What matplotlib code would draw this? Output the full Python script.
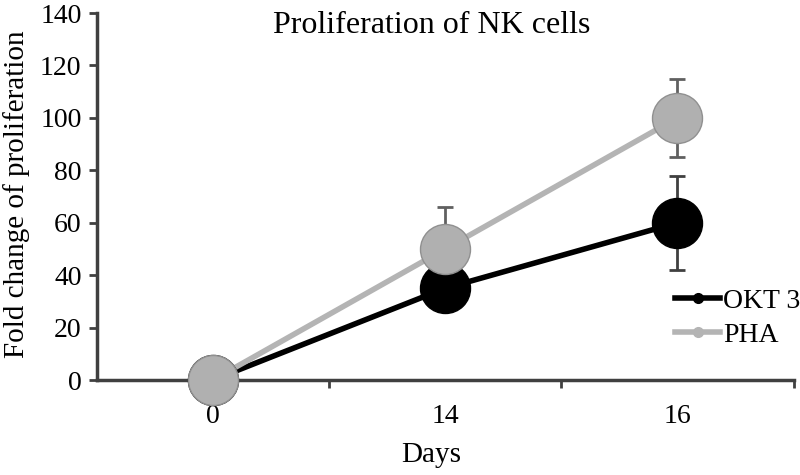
import numpy as np
import matplotlib.pyplot as plt

plt.rcParams['font.family'] = ['Liberation Serif', 'DejaVu Serif']

# data
days = ['0', '14', '16']
okt3 = [0, 35, 60]
okt3_err = [0, 0, 18]
pha = [0, 50, 100]
pha_err = [0, 16, 15]

x = np.arange(len(days))

fig = plt.figure(figsize=(8, 4.75), dpi=100)
ax = fig.add_axes([0.121, 0.2, 0.871, 0.7726])

ax.errorbar(x, okt3, yerr=okt3_err, fmt='none', ecolor='#404040', elinewidth=2, capsize=6, capthick=2, zorder=1)
ax.errorbar(x, pha, yerr=pha_err, fmt='none', ecolor='#606060', elinewidth=2, capsize=6, capthick=2, zorder=1)
ax.plot(x, okt3, color='black', lw=4, zorder=2)
ax.plot(x, pha, color='#b4b4b4', lw=4, zorder=2)
ax.plot(x, okt3, 'o', color='black', ms=36, zorder=3, clip_on=False)
ax.plot(x, pha, 'o', color='#b0b0b0', mec='#909090', mew=1, ms=36, zorder=4, clip_on=False)

# legend handles with small dots
h1, = ax.plot([], [], color='black', lw=4, marker='o', ms=7)
h2, = ax.plot([], [], color='#b4b4b4', lw=4, marker='o', ms=7)
ax.legend([h1, h2], ['OKT 3', 'PHA'], loc='lower right', bbox_to_anchor=(1.045, 0.02),
          frameon=False, fontsize=20, handlelength=1.6, handletextpad=0.1, labelspacing=0.3)

ax.set_xlim(-0.5, 2.5)
ax.set_ylim(0, 140)
ax.set_yticks(np.arange(0, 141, 20))
ax.set_xticks(x)
ax.set_xticklabels(days)
ax.set_xticks([0.5, 1.5, 2.5], minor=True)
ax.tick_params(axis='x', which='major', length=0, pad=17, labelsize=20)
ax.tick_params(axis='x', which='minor', length=6, width=2, color='#404040', direction='out')
ax.tick_params(axis='y', length=6, width=2, color='#404040', labelsize=20, pad=5)

for s in ['top', 'right']:
    ax.spines[s].set_visible(False)
for s in ['left', 'bottom']:
    ax.spines[s].set_color('#404040')
    ax.spines[s].set_linewidth(2.5)

ax.set_xlabel('Days', fontsize=21)
ax.xaxis.set_label_coords(0.48, -0.17)
ax.set_ylabel('Fold change of proliferation', fontsize=21, va='center')
ax.yaxis.set_label_coords(-0.115, 0.505)
ax.text(0.48, 0.965, 'Proliferation of NK cells', transform=ax.transAxes, ha='center', va='center', fontsize=23)

fig.savefig('out.png', dpi=100)
